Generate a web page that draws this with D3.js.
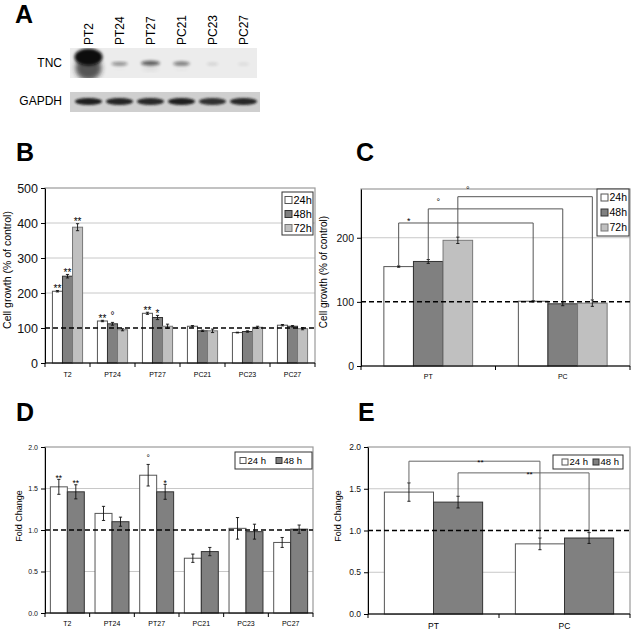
<!DOCTYPE html>
<html><head><meta charset="utf-8">
<script src="https://cdn.jsdelivr.net/npm/d3@7"></script>
<style>
body{margin:0;background:#fff}
svg{display:block}
text{font-family:"Liberation Sans",Arial,Helvetica,sans-serif}
</style>
</head><body>
<svg id="c" width="634" height="634"></svg>
<script>
// ---------- DATA ----------
// Panel A (western blot) – relative band signal per lane
const lanes = ["PT2","PT24","PT27","PC21","PC23","PC27"];
const blotRows = ["TNC","GAPDH"];
const tncSignal = [1.0,0.35,0.5,0.4,0.1,0.06];
const gapdhSignal = [0.95,0.92,0.9,0.95,0.85,0.9];

// Panel B
const cellLines = ["T2","PT24","PT27","PC21","PC23","PC27"];
const growthSeries = ["24h","48h","72h"];
const growth24 = [205,120,142,105,87,108];
const growth48 = [248,112,130,92,90,105];
const growth72 = [388,95,105,92,102,98];
const growthErr24 = [2,2,3,2,1,2];
const growthErr48 = [5,4,6,2,2,2];
const growthErr72 = [10,3,6,5,3,3];
const growthSig24 = ["**","**","**","","",""];
const growthSig48 = ["**","°","*","","",""];
const growthSig72 = ["**","","","","",""];
const growthTicks = [0,100,200,300,400,500];
const growthGrid = [200,300,400];

// Panel C
const pooledGroups = ["PT","PC"];
const pooled24 = [155,101];
const pooled48 = [163,97];
const pooled72 = [196,98];
const pooledErr24 = [1,1];
const pooledErr48 = [3,3];
const pooledErr72 = [5,5];
const pooledTicks = [0,100,200];
const pooledGrid = [200];
const pooledBracketSig = ["*","°","°"];
const pooledBracketLevel = [223,245,264];

// Panel D
const foldSeries = ["24 h","48 h"];
const fold24 = [1.52,1.20,1.66,0.66,1.02,0.85];
const fold48 = [1.46,1.10,1.46,0.74,0.98,1.01];
const foldErr24 = [0.09,0.085,0.13,0.05,0.13,0.06];
const foldErr48 = [0.085,0.055,0.09,0.05,0.09,0.05];
const foldSig24 = ["**","","°","","",""];
const foldSig48 = ["**","","*","","",""];
const foldTicks = [0,0.5,1.0,1.5,2.0];
const foldGrid = [0.5,1.5];

// Panel E
const pooledFold24 = [1.46,0.84];
const pooledFold48 = [1.34,0.91];
const pooledFoldErr24 = [0.11,0.07];
const pooledFoldErr48 = [0.07,0.065];
const pooledFoldBracketSig = ["**","**"];
const pooledFoldBracketLevel = [1.83,1.69];

// ---------- STYLES ----------
const FONT = '"Liberation Sans",Arial,Helvetica,sans-serif';
const fills = ["#ffffff","#808080","#c0c0c0"];
const strokes = ["#555555","#333333","#777777"];

const svg = d3.select("#c");
const defs = svg.append("defs");
defs.append("filter").attr("id","blur2").attr("x","-50%").attr("y","-50%").attr("width","200%").attr("height","200%")
  .append("feGaussianBlur").attr("stdDeviation",1.6);
defs.append("filter").attr("id","blur3").attr("x","-50%").attr("y","-50%").attr("width","200%").attr("height","200%")
  .append("feGaussianBlur").attr("stdDeviation",2.6);
defs.append("filter").attr("id","blur1").attr("x","-50%").attr("y","-50%").attr("width","200%").attr("height","200%")
  .append("feGaussianBlur").attr("stdDeviation",0.9);

function letter(t,x,y){
  svg.append("text").attr("x",x).attr("y",y).attr("font-size",25).attr("font-weight","bold").text(t);
}

// ---------- PANEL A ----------
letter("A",15,23);
(function(){
  const lane = d3.scaleBand().domain(lanes).range([73,259]);
  const cx = l=>lane(l)+lane.bandwidth()/2;
  const g = svg.append("g");
  g.selectAll("text.lane").data(lanes).join("text")
    .attr("transform",d=>`translate(${cx(d)+4.5},45) rotate(-90)`)
    .attr("font-size",12).text(d=>d);
  const tncY = [48,78], gY=[92,112];
  const clip = defs.append("clipPath").attr("id","tncclip");
  clip.append("rect").attr("x",70).attr("y",tncY[0]).attr("width",187).attr("height",tncY[1]-tncY[0]);
  g.append("rect").attr("x",70).attr("y",tncY[0]).attr("width",187).attr("height",tncY[1]-tncY[0]).attr("fill","#ececec");
  g.append("rect").attr("x",70).attr("y",gY[0]).attr("width",190).attr("height",gY[1]-gY[0]).attr("fill","#cfcfcf");
  g.append("text").attr("x",62).attr("y",67).attr("text-anchor","end").attr("font-size",12).text(blotRows[0]);
  g.append("text").attr("x",62).attr("y",105).attr("text-anchor","end").attr("font-size",12).text(blotRows[1]);
  const rows = lanes.map((l,i)=>({l,s:tncSignal[i]}));
  const tg = g.append("g").attr("clip-path","url(#tncclip)");
  // smear (only visible for strong signal)
  tg.selectAll("ellipse.sm").data(rows).join("ellipse")
    .attr("cx",d=>cx(d.l)).attr("cy",68)
    .attr("rx",d=>3+10*d.s).attr("ry",d=>1+11*Math.pow(d.s,3))
    .attr("fill","#222").attr("opacity",d=>0.75*Math.pow(d.s,3)).attr("filter","url(#blur3)");
  // main band
  tg.selectAll("ellipse.tnc").data(rows).join("ellipse")
    .attr("cx",d=>cx(d.l)).attr("cy",d=>64-7*Math.pow(d.s,3))
    .attr("rx",d=>5+9*d.s).attr("ry",d=>1.5+7*Math.pow(d.s,3))
    .attr("fill","#0c0c0c").attr("opacity",d=>Math.min(1,d.s*1.3)).attr("filter","url(#blur2)");
  g.selectAll("ellipse.gap").data(lanes.map((l,i)=>({l,s:gapdhSignal[i]}))).join("ellipse")
    .attr("cx",d=>cx(d.l)).attr("cy",101.5)
    .attr("rx",13.5).attr("ry",3.4)
    .attr("fill","#151515").attr("opacity",d=>d.s).attr("filter","url(#blur1)");
})();

// ---------- GENERIC BAR PANEL ----------
function drawPanel(o){
  const g = svg.append("g");
  const x = d3.scaleBand().domain(o.categories).range([o.left,o.right]).paddingInner(o.pad).paddingOuter(o.pad/2);
  const xs = d3.scaleBand().domain(o.series.map(s=>s.key)).range([0,x.bandwidth()]);
  const y = d3.scaleLinear().domain([0,o.yMax]).range([o.bottom,o.top]);
  g.selectAll("line.grid").data(o.grid).join("line")
    .attr("x1",o.left).attr("x2",o.right).attr("y1",d=>y(d)).attr("y2",d=>y(d))
    .attr("stroke","#c8c8c8").attr("stroke-width",1);
  g.append("rect").attr("x",o.left).attr("y",o.top).attr("width",o.right-o.left).attr("height",o.bottom-o.top)
    .attr("fill","none").attr("stroke","#9a9a9a").attr("stroke-width",1.2);
  o.series.forEach((s,si)=>{
    const rows = o.categories.map((c,i)=>({c,v:s.values[i],e:s.errs[i]}));
    g.append("g").selectAll("rect").data(rows).join("rect")
      .attr("x",d=>x(d.c)+xs(s.key)).attr("y",d=>y(d.v))
      .attr("width",xs.bandwidth()).attr("height",d=>y(0)-y(d.v))
      .attr("fill",fills[si]).attr("stroke",strokes[si]).attr("stroke-width",1);
  });
  o.series.forEach((s,si)=>{
    const rows = o.categories.map((c,i)=>({c,v:s.values[i],e:s.errs[i],sig:s.sigs?s.sigs[i]:""}));
    const cx = d=>x(d.c)+xs(s.key)+xs.bandwidth()/2;
    const eg = g.append("g").attr("stroke","#111").attr("stroke-width",0.9);
    eg.selectAll("line.v").data(rows).join("line")
      .attr("x1",cx).attr("x2",cx).attr("y1",d=>y(d.v-d.e)).attr("y2",d=>y(d.v+d.e));
    eg.selectAll("line.t").data(rows).join("line")
      .attr("x1",d=>cx(d)-1.6).attr("x2",d=>cx(d)+1.6).attr("y1",d=>y(d.v+d.e)).attr("y2",d=>y(d.v+d.e));
    eg.selectAll("line.b").data(rows).join("line")
      .attr("x1",d=>cx(d)-1.6).attr("x2",d=>cx(d)+1.6).attr("y1",d=>y(d.v-d.e)).attr("y2",d=>y(d.v-d.e));
    g.selectAll(null).data(rows.filter(d=>d.sig)).join("text")
      .attr("x",cx).attr("y",d=>y(d.v+d.e)+(d.sig==="°"?-3:1.5))
      .attr("text-anchor","middle").attr("font-size",o.sigSize).text(d=>d.sig);
  });
  if(o.brackets){
    o.brackets.forEach(b=>{
      const s = o.series[b.series];
      const bx = c=>x(c)+xs(s.key)+xs.bandwidth()/2;
      const x0 = bx(o.categories[0]), x1 = bx(o.categories[1]);
      const y0 = y(s.values[0]+s.errs[0]), y1 = y(s.values[1]+s.errs[1]);
      const ly = y(b.level);
      g.append("path").attr("d",`M${x0},${y0}V${ly}H${x1}V${y1}`)
        .attr("fill","none").attr("stroke",o.bracketColor).attr("stroke-width",1);
      g.append("text").attr("x",o.bracketLabelMid ? (x0+x1)/2+6 : x0+10)
        .attr("y",ly+(o.bracketLabelMid?4:(b.sig==="°"?-4:1)))
        .attr("text-anchor","middle").attr("font-size",o.sigSize).text(b.sig);
    });
  }
  g.append("line").attr("x1",o.left).attr("x2",o.right).attr("y1",y(o.ref)).attr("y2",y(o.ref))
    .attr("stroke","#000").attr("stroke-width",1.5).attr("stroke-dasharray","5,3");
  const ya = g.append("g").attr("transform",`translate(${o.left},0)`)
    .call(d3.axisLeft(y).tickValues(o.ticks).tickSize(4).tickSizeOuter(0).tickPadding(3).tickFormat(o.fmt));
  ya.select(".domain").attr("stroke","#000");
  ya.selectAll(".tick line").attr("stroke","#000");
  ya.selectAll(".tick text").attr("font-size",o.tickSize).attr("font-family",FONT).attr("fill","#111");
  const bounds = d3.range(o.categories.length+1).map(i=>o.left+i*x.step());
  g.append("line").attr("x1",o.left).attr("x2",o.right).attr("y1",o.bottom).attr("y2",o.bottom).attr("stroke","#000");
  g.selectAll("line.xt").data(bounds).join("line")
    .attr("x1",d=>d).attr("x2",d=>d).attr("y1",o.bottom).attr("y2",o.bottom+4).attr("stroke","#000");
  g.selectAll("text.cat").data(o.categories).join("text")
    .attr("x",d=>x(d)+x.bandwidth()/2).attr("y",o.bottom+o.catDy)
    .attr("text-anchor","middle").attr("font-size",o.catSize).text(d=>d);
  g.append("text").attr("transform",`translate(${o.yLabelX},${o.yLabelY}) rotate(-90)`)
    .attr("text-anchor","middle").attr("font-size",o.yLabelSize).text(o.yLabel);
  const L = o.legend;
  const lg = g.append("g");
  lg.append("rect").attr("x",L.x).attr("y",L.y).attr("width",L.w).attr("height",L.h)
    .attr("fill","#fff").attr("stroke","#333").attr("stroke-width",1);
  o.series.forEach((s,si)=>{
    const ix = L.horizontal ? L.x+L.pad+si*L.step : L.x+L.pad;
    const iy = L.horizontal ? L.y+L.h/2 : L.y+L.step/2+si*L.step+1;
    lg.append("rect").attr("x",ix).attr("y",iy-L.sw/2).attr("width",L.sw).attr("height",L.sw)
      .attr("fill",fills[si]).attr("stroke",strokes[si]).attr("stroke-width",1);
    lg.append("text").attr("x",ix+L.sw+1.5).attr("y",iy+L.fs*0.36).attr("font-size",L.fs).text(s.key);
  });
}

// ---------- PANEL B ----------
letter("B",16,161);
drawPanel({
  categories:cellLines, pad:0.33,
  series:[
    {key:growthSeries[0],values:growth24,errs:growthErr24,sigs:growthSig24},
    {key:growthSeries[1],values:growth48,errs:growthErr48,sigs:growthSig48},
    {key:growthSeries[2],values:growth72,errs:growthErr72,sigs:growthSig72}],
  left:45,right:315,top:188,bottom:363,yMax:500,ticks:growthTicks,grid:growthGrid,ref:100,
  fmt:d3.format("d"),tickSize:12.5,catSize:7,catDy:14,sigSize:10,
  yLabel:"Cell growth (% of control)",yLabelX:11,yLabelY:270,yLabelSize:10.5,
  legend:{x:282,y:192,w:31,h:43,pad:3,step:14,sw:7,fs:11}
});

// ---------- PANEL C ----------
letter("C",356,161);
drawPanel({
  categories:pooledGroups, pad:0.34,
  series:[
    {key:growthSeries[0],values:pooled24,errs:pooledErr24},
    {key:growthSeries[1],values:pooled48,errs:pooledErr48},
    {key:growthSeries[2],values:pooled72,errs:pooledErr72}],
  left:361,right:630,top:189,bottom:366,yMax:276,ticks:pooledTicks,grid:pooledGrid,ref:100,
  fmt:d3.format("d"),tickSize:10.5,catSize:7,catDy:13,sigSize:9,
  brackets:pooledBracketSig.map((s,i)=>({series:i,sig:s,level:pooledBracketLevel[i]})),
  bracketColor:"#555",bracketLabelMid:false,
  yLabel:"Cell growth (% of control)",yLabelX:327,yLabelY:272,yLabelSize:10,
  legend:{x:597,y:189,w:32,h:47,pad:4,step:15,sw:7,fs:10.5}
});

// ---------- PANEL D ----------
letter("D",16,421);
drawPanel({
  categories:cellLines, pad:0.24,
  series:[
    {key:foldSeries[0],values:fold24,errs:foldErr24,sigs:foldSig24},
    {key:foldSeries[1],values:fold48,errs:foldErr48,sigs:foldSig48}],
  left:45,right:313,top:447,bottom:613,yMax:2,ticks:foldTicks,grid:foldGrid,ref:1,
  fmt:d3.format(".1f"),tickSize:7,catSize:7,catDy:13,sigSize:8.5,
  yLabel:"Fold Change",yLabelX:22,yLabelY:516,yLabelSize:9,
  legend:{x:235,y:452,w:77,h:17,pad:5,step:36,sw:6,fs:9.5,horizontal:true}
});

// ---------- PANEL E ----------
letter("E",358,421);
drawPanel({
  categories:pooledGroups, pad:0.25,
  series:[
    {key:foldSeries[0],values:pooledFold24,errs:pooledFoldErr24},
    {key:foldSeries[1],values:pooledFold48,errs:pooledFoldErr48}],
  left:368,right:630,top:447,bottom:614,yMax:2,ticks:foldTicks,grid:foldGrid,ref:1,
  fmt:d3.format(".1f"),tickSize:8.5,catSize:8.5,catDy:15,sigSize:8,
  brackets:pooledFoldBracketSig.map((s,i)=>({series:i,sig:s,level:pooledFoldBracketLevel[i]})),
  bracketColor:"#666",bracketLabelMid:true,
  yLabel:"Fold Change",yLabelX:341,yLabelY:516,yLabelSize:9,
  legend:{x:553,y:455,w:70,h:14,pad:9,step:31,sw:6,fs:9.5,horizontal:true}
});
</script>
</body></html>
